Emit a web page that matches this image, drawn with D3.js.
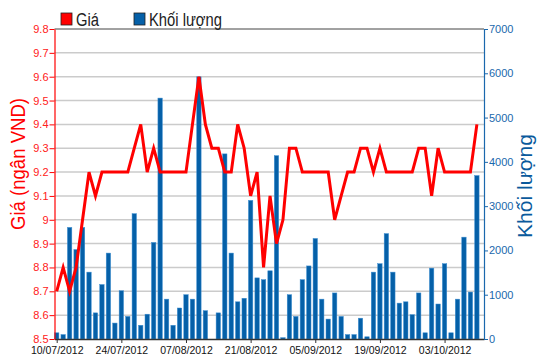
<!DOCTYPE html>
<html>
<head>
<meta charset="utf-8">
<script src="https://cdn.jsdelivr.net/npm/d3@7"></script>
<style>
body { margin: 0; background: #fff; }
svg { display: block; font-family: "Liberation Sans", Arial, sans-serif; }
</style>
</head>
<body>
<svg id="chart"></svg>
<script>
// trading days
var dates = [
  "10/07/2012","11/07/2012","12/07/2012","13/07/2012","16/07/2012","17/07/2012","18/07/2012","19/07/2012","20/07/2012","23/07/2012",
  "24/07/2012","25/07/2012","26/07/2012","27/07/2012","30/07/2012","31/07/2012","01/08/2012","02/08/2012","03/08/2012","06/08/2012",
  "07/08/2012","08/08/2012","09/08/2012","10/08/2012","13/08/2012","14/08/2012","15/08/2012","16/08/2012","17/08/2012","20/08/2012",
  "21/08/2012","22/08/2012","23/08/2012","24/08/2012","27/08/2012","28/08/2012","29/08/2012","30/08/2012","31/08/2012","04/09/2012",
  "05/09/2012","06/09/2012","07/09/2012","10/09/2012","11/09/2012","12/09/2012","13/09/2012","14/09/2012","17/09/2012","18/09/2012",
  "19/09/2012","20/09/2012","21/09/2012","24/09/2012","25/09/2012","26/09/2012","27/09/2012","28/09/2012","01/10/2012","02/10/2012",
  "03/10/2012","04/10/2012","05/10/2012","08/10/2012","09/10/2012","10/10/2012"
];

var price = [
  8.7,8.8,8.7,8.8,9.0,9.2,9.1,9.2,9.2,9.2,
  9.2,9.2,9.3,9.4,9.2,9.3,9.2,9.2,9.2,9.2,
  9.2,9.4,9.6,9.4,9.3,9.3,9.2,9.2,9.4,9.3,
  9.1,9.2,8.8,9.1,8.9,9.0,9.3,9.3,9.2,9.2,
  9.2,9.2,9.2,9.0,9.1,9.2,9.2,9.3,9.3,9.2,
  9.3,9.2,9.2,9.2,9.2,9.2,9.3,9.3,9.1,9.3,
  9.2,9.2,9.2,9.2,9.2,9.4
];

var volume = [
  140,100,2520,2020,2520,1510,590,1230,1940,360,
  1090,510,2830,310,560,2180,5440,900,310,700,
  1000,900,5920,640,0,590,4180,1940,840,920,
  3130,1380,1340,1540,4140,30,1000,510,1340,1650,
  2270,900,450,1040,510,100,100,470,50,1510,
  1700,2380,1510,810,840,550,1040,140,1600,790,
  1700,140,900,2300,1060,3690
];

var dateTicks = [0,10,20,30,40,50,60];
var priceTicks = [8.5,8.6,8.7,8.8,8.9,9.0,9.1,9.2,9.3,9.4,9.5,9.6,9.7,9.8];
var volumeTicks = [0,1000,2000,3000,4000,5000,6000,7000];

var width = 550, height = 364;
var m = { left: 54.5, right: 484, top: 29, bottom: 339 };

var svg = d3.select('#chart').attr('width', width).attr('height', height);

var x = d3.scaleLinear().domain([-0.34, 66.1]).range([m.left, m.right]);
var yP = d3.scaleLinear().domain([8.5, 9.8]).range([m.bottom, m.top]);
var yV = d3.scaleLinear().domain([0, 7000]).range([m.bottom, m.top]);

// grid
svg.append('g').selectAll('line')
  .data(priceTicks.slice(1, -1)).enter()
  .append('line')
  .attr('x1', m.left).attr('x2', m.right)
  .attr('y1', function(d){ return yP(d); })
  .attr('y2', function(d){ return yP(d); })
  .attr('stroke', '#cbcbcb')
  .attr('stroke-width', 1.5);

svg.append('line')
  .attr('x1', m.left).attr('x2', m.right)
  .attr('y1', m.top).attr('y2', m.top)
  .attr('stroke', '#444').attr('stroke-width', 1);

// bars
svg.append('g').selectAll('rect')
  .data(volume).enter()
  .append('rect')
  .attr('x', function(d, i){ return x(i) - 2.2; })
  .attr('width', 4.4)
  .attr('y', function(d){ return yV(d); })
  .attr('height', function(d){ return m.bottom - yV(d); })
  .attr('fill', '#0560a8')
  .attr('stroke', '#3f8fd2')
  .attr('stroke-width', 0.5);

// price line
var line = d3.line()
  .x(function(d, i){ return x(i); })
  .y(function(d){ return yP(d); });

svg.append('path')
  .datum(price)
  .attr('d', line)
  .attr('fill', 'none')
  .attr('stroke', '#ff0000')
  .attr('stroke-width', 3)
  .attr('stroke-linejoin', 'miter');

// x axis
var xAxis = d3.axisBottom(x)
  .tickValues(dateTicks)
  .tickFormat(function(i){ return dates[i]; })
  .tickSize(4).tickSizeOuter(0);

var gx = svg.append('g')
  .attr('transform', 'translate(0,' + m.bottom + ')')
  .call(xAxis);
gx.select('.domain').attr('stroke', '#333').attr('stroke-width', 1.5);
gx.selectAll('.tick line').attr('stroke', '#333');
gx.selectAll('text').attr('fill', '#111').attr('font-size', 10.5).attr('y', 8)
  .attr('font-family', null);

// left axis
var yAxisL = d3.axisLeft(yP)
  .tickValues(priceTicks)
  .tickFormat(d3.format('~g'))
  .tickSize(5).tickSizeOuter(0);

var gl = svg.append('g')
  .attr('transform', 'translate(' + m.left + ',0)')
  .call(yAxisL);
gl.select('.domain').attr('stroke', '#ff0000').attr('stroke-width', 1.2);
gl.selectAll('.tick line').attr('stroke', '#ff0000');
gl.selectAll('text').attr('fill', '#ff2020').attr('font-size', 11).attr('x', -6)
  .attr('font-family', null);

// right axis
var yAxisR = d3.axisRight(yV)
  .tickValues(volumeTicks)
  .tickFormat(d3.format('d'))
  .tickSize(4).tickSizeOuter(0);

var gr = svg.append('g')
  .attr('transform', 'translate(' + m.right + ',0)')
  .call(yAxisR);
gr.select('.domain').attr('stroke', '#1a68ad').attr('stroke-width', 1.2);
gr.selectAll('.tick line').attr('stroke', '#1a68ad');
gr.selectAll('text').attr('fill', '#1a68ad').attr('font-size', 11).attr('x', 5)
  .attr('font-family', null);

// axis titles
svg.append('text')
  .attr('transform', 'translate(25,164) rotate(-90)')
  .attr('text-anchor', 'middle')
  .attr('font-size', 20)
  .attr('textLength', 132)
  .attr('lengthAdjust', 'spacingAndGlyphs')
  .attr('fill', '#ff0000')
  .text('Giá (ngân VND)');

svg.append('text')
  .attr('transform', 'translate(532,186) rotate(-90)')
  .attr('text-anchor', 'middle')
  .attr('font-size', 20)
  .attr('textLength', 104)
  .attr('lengthAdjust', 'spacingAndGlyphs')
  .attr('fill', '#0a5a9c')
  .text('Khối lượng');

// legend
var legend = [
  { name: 'Giá', color: '#ff0000', x: 61, w: 23 },
  { name: 'Khối lượng', color: '#0560a8', x: 134, w: 73 }
];
var lg = svg.append('g').selectAll('g')
  .data(legend).enter()
  .append('g')
  .attr('transform', function(d){ return 'translate(' + d.x + ',13)'; });
lg.append('rect')
  .attr('width', 11).attr('height', 12)
  .attr('fill', function(d){ return d.color; })
  .attr('stroke', '#222').attr('stroke-width', 0.8);
lg.append('text')
  .attr('x', 15).attr('y', 13)
  .attr('font-size', 18)
  .attr('textLength', function(d){ return d.w; })
  .attr('lengthAdjust', 'spacingAndGlyphs')
  .attr('fill', '#222')
  .text(function(d){ return d.name; });
</script>
</body>
</html>
